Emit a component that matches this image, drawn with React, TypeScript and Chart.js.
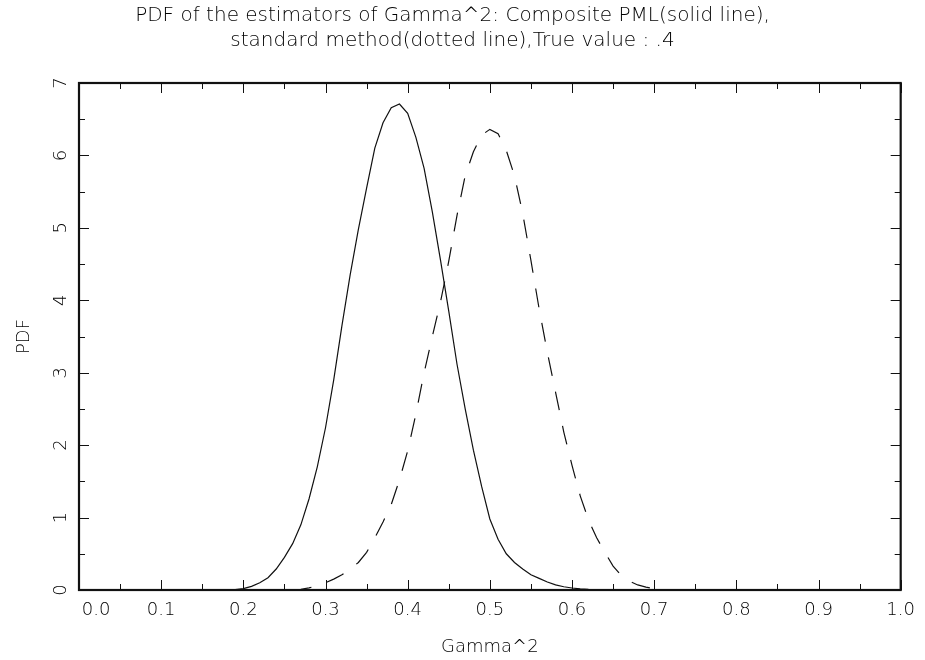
import React, { useEffect, useRef } from 'react';
import { Chart, registerables } from 'chart.js';

Chart.register(...registerables);

const titleLines = [
  'PDF of the estimators of Gamma^2: Composite PML(solid line),',
  'standard method(dotted line),True value : .4',
];
const xAxisTitle = 'Gamma^2';
const yAxisTitle = 'PDF';

// Composite PML (solid line)
const solidX = [
  0.17, 0.18, 0.19, 0.2, 0.21, 0.22, 0.23, 0.24, 0.25, 0.26, 0.27, 0.28, 0.29,
  0.3, 0.31, 0.32, 0.33, 0.34, 0.35, 0.36, 0.37, 0.38, 0.39, 0.4, 0.41, 0.42,
  0.43, 0.44, 0.45, 0.46, 0.47, 0.48, 0.49, 0.5, 0.51, 0.52, 0.53, 0.54, 0.55,
  0.56, 0.57, 0.58, 0.59, 0.6, 0.61, 0.62, 0.63, 0.64, 0.65,
];
const solidY = [
  0.0, 0.002, 0.005, 0.02, 0.05, 0.1, 0.17, 0.29, 0.45, 0.64, 0.9, 1.26, 1.7,
  2.24, 2.9, 3.65, 4.35, 4.98, 5.55, 6.1, 6.45, 6.66, 6.71, 6.58, 6.25, 5.82,
  5.22, 4.55, 3.85, 3.12, 2.5, 1.93, 1.43, 0.98, 0.7, 0.5, 0.38, 0.29, 0.21,
  0.16, 0.11, 0.07, 0.045, 0.028, 0.016, 0.008, 0.004, 0.002, 0.0,
];

// Standard method (dotted line)
const dashedX = [
  0.26, 0.27, 0.28, 0.29, 0.3, 0.31, 0.32, 0.33, 0.34, 0.35, 0.36, 0.37, 0.38,
  0.39, 0.4, 0.41, 0.42, 0.43, 0.44, 0.45, 0.46, 0.47, 0.48, 0.49, 0.5, 0.51,
  0.52, 0.53, 0.54, 0.55, 0.56, 0.57, 0.58, 0.59, 0.6, 0.61, 0.62, 0.63, 0.64,
  0.65, 0.66, 0.67, 0.68, 0.69, 0.7, 0.71, 0.72,
];
const dashedY = [
  0.0, 0.01, 0.03, 0.06, 0.1, 0.15, 0.21, 0.29, 0.38, 0.52, 0.72, 0.94, 1.18,
  1.52, 1.92, 2.43, 3.0, 3.5, 3.98, 4.54, 5.17, 5.72, 6.05, 6.28, 6.36, 6.3,
  6.07, 5.72, 5.2, 4.55, 3.88, 3.28, 2.73, 2.18, 1.72, 1.3, 0.97, 0.72, 0.52,
  0.33, 0.2, 0.12, 0.07, 0.04, 0.02, 0.01, 0.0,
];

const FONT_FAMILY = "'DejaVu Sans', 'Liberation Sans', sans-serif";
const TEXT_COLOR = '#000';
const LINE_COLOR = '#111';

const frameTicks = {
  id: 'frameTicks',
  afterDatasetsDraw(chart: any) {
    const { ctx, chartArea, scales } = chart;
    const { left, right, top, bottom } = chartArea;
    const xs = scales.x;
    const ys = scales.y;
    ctx.save();
    ctx.strokeStyle = LINE_COLOR;
    ctx.lineWidth = 1;
    const majorLen = 10;
    const minorLen = 6;
    const xMajor = xs.ticks.map((t: any) => t.value);
    const yMajor = ys.ticks.map((t: any) => t.value);
    const drawX = (v: number, len: number) => {
      const p = Math.round(xs.getPixelForValue(v)) + 0.5;
      ctx.beginPath();
      ctx.moveTo(p, bottom);
      ctx.lineTo(p, bottom - len);
      ctx.moveTo(p, top);
      ctx.lineTo(p, top + len);
      ctx.stroke();
    };
    const drawY = (v: number, len: number) => {
      const p = Math.round(ys.getPixelForValue(v)) + 0.5;
      ctx.beginPath();
      ctx.moveTo(left, p);
      ctx.lineTo(left + len, p);
      ctx.moveTo(right, p);
      ctx.lineTo(right - len, p);
      ctx.stroke();
    };
    xMajor.forEach((v: number, i: number) => {
      drawX(v, majorLen);
      if (i < xMajor.length - 1) drawX((v + xMajor[i + 1]) / 2, minorLen);
    });
    yMajor.forEach((v: number, i: number) => {
      drawY(v, majorLen);
      if (i < yMajor.length - 1) drawY((v + yMajor[i + 1]) / 2, minorLen);
    });
    ctx.lineWidth = 2.2;
    ctx.strokeRect(left, top, right - left, bottom - top);
    ctx.restore();
  },
};

export default function App() {
  const canvasRef = useRef<HTMLCanvasElement | null>(null);

  useEffect(() => {
    document.body.style.margin = '0';
    const canvas = canvasRef.current;
    if (!canvas) return;
    const tickFont = { family: FONT_FAMILY, size: 18, weight: '200' as any };
    const axisTitleFont = { family: FONT_FAMILY, size: 18, weight: '200' as any };
    const chart = new Chart(canvas, {
      type: 'line',
      data: {
        datasets: [
          {
            label: 'Composite PML',
            data: solidX.map((x, i) => ({ x, y: solidY[i] })),
            borderColor: LINE_COLOR,
            borderWidth: 1.2,
            pointRadius: 0,
            tension: 0,
            fill: false,
          },
          {
            label: 'Standard method',
            data: dashedX.map((x, i) => ({ x, y: dashedY[i] })),
            borderColor: LINE_COLOR,
            borderWidth: 1.2,
            borderDash: [19, 16],
            pointRadius: 0,
            tension: 0,
            fill: false,
          },
        ],
      },
      options: {
        animation: false,
        responsive: false,
        maintainAspectRatio: false,
        layout: { padding: { left: 0, right: 20, top: 0, bottom: 0 } },
        plugins: {
          legend: { display: false },
          tooltip: { enabled: false },
          title: {
            display: true,
            text: titleLines,
            color: TEXT_COLOR,
            font: { family: FONT_FAMILY, size: 20, weight: '200' as any, lineHeight: 1.25 },
            padding: { top: 3.5, bottom: 29.5 },
          },
        },
        scales: {
          x: {
            type: 'linear',
            min: 0,
            max: 1,
            grid: { display: false, drawTicks: false },
            border: { display: false },
            ticks: {
              stepSize: 0.1,
              padding: 10,
              color: TEXT_COLOR,
              font: tickFont,
              maxRotation: 0,
              autoSkip: false,
              callback: (v: any) =>
                Number(v) === 0 ? '\u2007\u2007\u20070.0' : Number(v).toFixed(1),
            },
            title: {
              display: true,
              text: xAxisTitle,
              color: TEXT_COLOR,
              font: axisTitleFont,
              padding: { top: 4, bottom: 2 },
            },
            afterFit: (s: any) => {
              s.height = 70;
            },
          },
          y: {
            type: 'linear',
            min: 0,
            max: 7,
            grid: { display: false, drawTicks: false },
            border: { display: false },
            ticks: {
              stepSize: 1,
              padding: 12,
              color: TEXT_COLOR,
              font: tickFont,
              minRotation: 90,
              maxRotation: 90,
              crossAlign: 'center',
            },
            title: {
              display: true,
              text: yAxisTitle,
              color: TEXT_COLOR,
              font: axisTitleFont,
              padding: { top: 14, bottom: 0 },
            },
            afterFit: (s: any) => {
              s.width = 79;
            },
          },
        },
      },
      plugins: [frameTicks],
    });
    return () => chart.destroy();
  }, []);

  return (
    <div style={{ width: 925, height: 660 }}>
      <canvas ref={canvasRef} width={925} height={660} />
    </div>
  );
}
